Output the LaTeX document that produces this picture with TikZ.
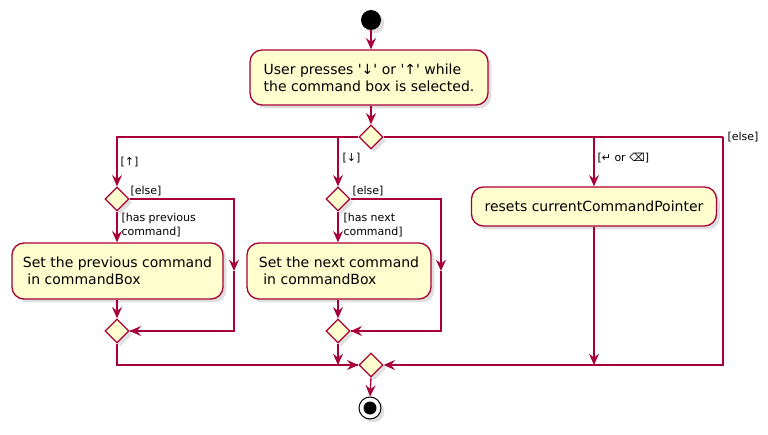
\documentclass[tikz,border=0pt]{standalone}
\usepackage{fontspec}
\setmainfont{DejaVu Sans}[Ligatures=TeXOff]
\usetikzlibrary{arrows.meta,shapes.geometric,shadows}
\definecolor{umlred}{HTML}{A80036}
\definecolor{umlfill}{HTML}{FEFECE}

\tikzset{every picture/.style={line width=0.75pt}}
\tikzset{
  wire/.style={draw=umlred, line width=1pt},
  flow/.style={wire, -{Stealth[length=8.5pt,width=7.5pt,inset=3pt]}},
  umlshadow/.style={drop shadow={shadow xshift=2.5pt, shadow yshift=-2.5pt, opacity=0.25}},
  actbox/.style={draw=umlred, fill=umlfill, line width=1pt, rounded corners=9pt, align=left,
    inner sep=0pt, font=\fontsize{10.5}{12.75}\selectfont, umlshadow},
  choice/.style={diamond, draw=umlred, fill=umlfill, line width=1pt, minimum width=18pt,
    minimum height=18pt, inner sep=0pt, umlshadow},
  guard/.style={anchor=west, align=left, inner sep=0pt, font=\fontsize{8.25}{10.5}\selectfont}
}

\begin{document}
\begin{tikzpicture}[x=0.75pt,y=0.75pt,yscale=-1,xscale=1]
\useasboundingbox (0,0) rectangle (768,435);

%Start [id:start]
\node [circle, fill=black, minimum size=15pt, inner sep=0pt, umlshadow] (start) at (371,20) {};
%Activity [id:act1]
\node [actbox, minimum width=178.5pt, minimum height=41.25pt] (act1) at (369,77.5) {User presses '↓' or '↑' while\\the command box is selected.};
%Decision [id:dmain]
\node [choice] (dmain) at (371,137) {};

%Decision [id:dup]
\node [choice] (dup) at (117,199) {};
%Activity [id:act2]
\node [actbox, minimum width=158.25pt, minimum height=42pt] (act2) at (117.5,271) {Set the previous command\\\mbox{}\ in commandBox};
%Merge [id:dupm]
\node [choice] (dupm) at (117,331) {};

%Decision [id:ddown]
\node [choice] (ddown) at (338,199) {};
%Activity [id:act3]
\node [actbox, minimum width=138pt, minimum height=42pt] (act3) at (339,271) {Set the next command\\\mbox{}\ in commandBox};
%Merge [id:ddownm]
\node [choice] (ddownm) at (338,331) {};

%Activity [id:act4]
\node [actbox, minimum width=183.75pt, minimum height=29.25pt] (act4) at (594,206.5) {resets currentCommandPointer};

%Merge [id:dmerge]
\node [choice] (dmerge) at (371,365) {};
%End [id:stop]
\node [circle, draw=black, fill=white, line width=0.75pt, minimum size=16.5pt, inner sep=0pt, umlshadow] (stop) at (370,408) {};
\node [circle, fill=black, minimum size=9.75pt, inner sep=0pt] (stopdot) at (stop) {};

%Corners of the else paths
\coordinate (elsecorner) at (723,137);
\coordinate (upback) at (234,271);
\coordinate (downback) at (441,271);

%Straight Lines
\draw [flow] (start) -- (start |- act1.north);
\draw [flow] (act1.south -| dmain) -- (dmain.north);
\draw [flow] (dmain.west) -| (dup.north);
\draw [flow] (ddown |- dmain) -- (ddown.north);
\draw [flow] (act4 |- dmain) -- (act4.north);
\draw [wire] (dmain.east) -- (elsecorner);
\draw [flow] (elsecorner) |- (dmerge.east);

%Straight Lines
\draw [flow] (dup.south) -- (act2.north -| dup);
\draw [flow] (act2.south -| dupm) -- (dupm.north);
\draw [wire] (upback) |- (dupm.east);
\draw [flow] (dup.east) -| (upback);
\draw [flow] (dupm.east -| upback) -- (dupm.east);
\draw [wire] (dupm.south) |- (dmerge.west);
\draw [flow] (dupm |- dmerge) -- (dmerge.west);

%Straight Lines
\draw [flow] (ddown.south) -- (act3.north -| ddown);
\draw [flow] (act3.south -| ddownm) -- (ddownm.north);
\draw [wire] (downback) |- (ddownm.east);
\draw [flow] (ddown.east) -| (downback);
\draw [flow] (ddownm.east -| downback) -- (ddownm.east);
\draw [flow] (ddownm.south) -- (ddownm |- dmerge);

%Straight Lines
\draw [flow] (act4.south) -- (act4 |- dmerge);
\draw [flow] (dmerge.south) -- (stop.north);

% Text Node
\node [guard] (gup) at (120,162) {[↑]};
% Text Node
\node [guard] (gdown) at (342,158) {[↓]};
% Text Node
\node [guard] (greset) at (597,158) {[↵ or ⌫]};
% Text Node
\node [guard] (gelse) at (727,137) {[else]};
% Text Node
\node [guard] (gupelse) at (130,191) {[else]};
% Text Node
\node [guard] (gdownelse) at (352,191) {[else]};
% Text Node
\node [guard] (gprev) at (121,225) {[has previous\\command]};
% Text Node
\node [guard] (gnext) at (343,225) {[has next\\command]};

\end{tikzpicture}
\end{document}
